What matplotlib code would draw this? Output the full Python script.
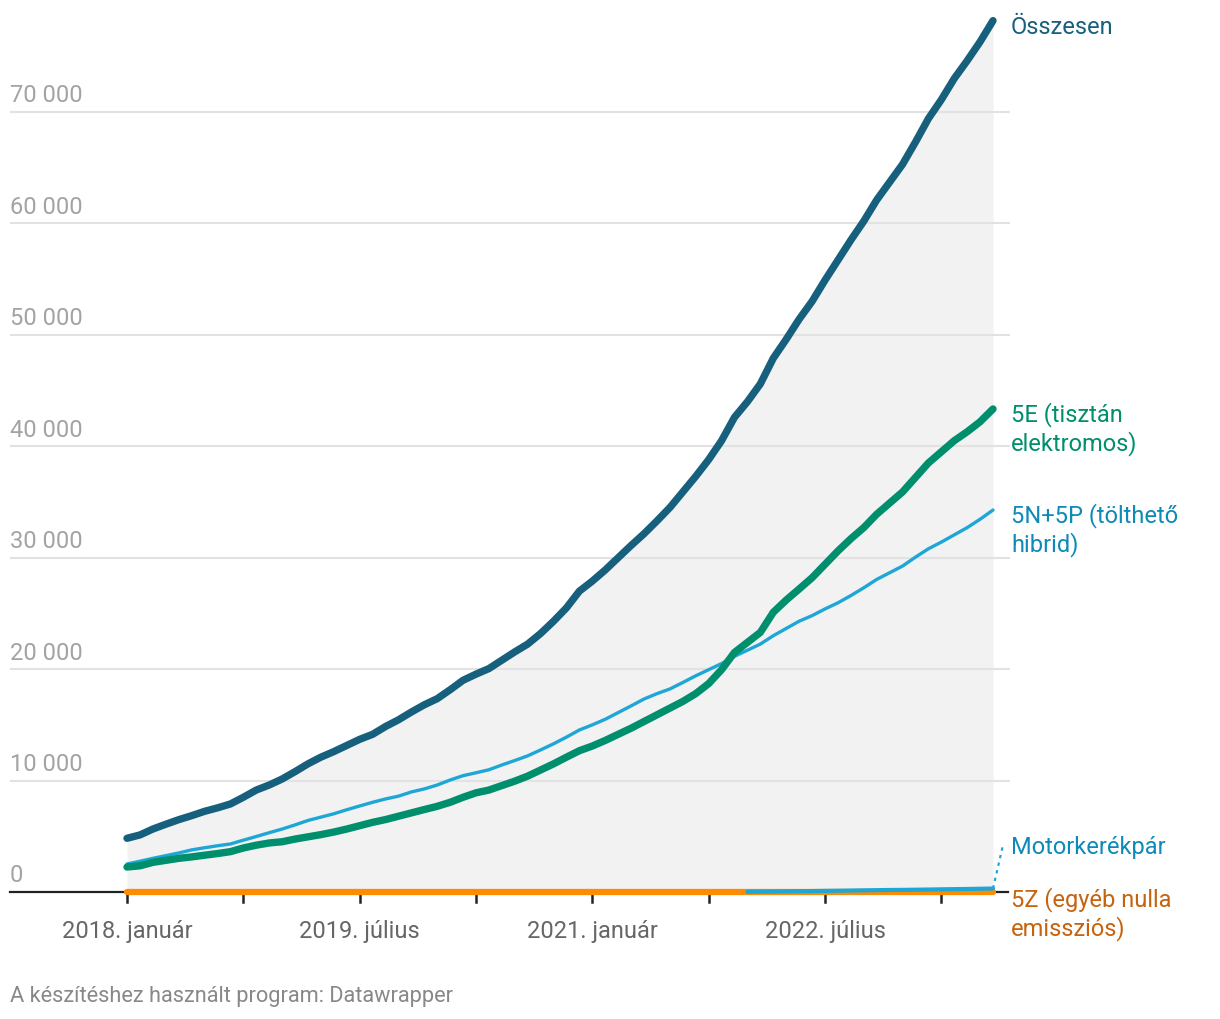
import matplotlib.pyplot as plt
import numpy as np

plt.rcParams['font.family'] = ['Roboto', 'DejaVu Sans']

# monthly values, 2018 January .. 2023 August (68 months)
months = np.arange(68)

osszesen = [4820, 5120, 5650, 6080, 6490, 6850, 7240, 7550, 7900, 8500,
            9150, 9600, 10140, 10800, 11500, 12100, 12600, 13150, 13700, 14150,
            14850, 15450, 16150, 16800, 17350, 18150, 19000, 19550, 20050, 20800,
            21550, 22250, 23200, 24300, 25500, 27000, 27900, 28900, 30000, 31100,
            32150, 33300, 34500, 35900, 37300, 38800, 40500, 42600, 44000, 45600,
            47900, 49600, 51400, 53000, 54900, 56700, 58500, 60200, 62100, 63700,
            65300, 67300, 69400, 71100, 73000, 74600, 76300, 78200]

e5 = [2240, 2350, 2660, 2840, 3020, 3150, 3300, 3450, 3620, 3950,
      4200, 4400, 4510, 4750, 4950, 5150, 5380, 5650, 5950, 6250,
      6500, 6800, 7100, 7400, 7690, 8050, 8500, 8900, 9150, 9550,
      9950, 10400, 10950, 11500, 12100, 12680, 13100, 13600, 14150, 14700,
      15300, 15900, 16500, 17100, 17800, 18700, 19950, 21500, 22400, 23300,
      25100, 26200, 27190, 28200, 29400, 30600, 31700, 32700, 33900, 34900,
      35900, 37200, 38500, 39500, 40500, 41300, 42200, 43350]

np5 = [2510, 2760, 3020, 3260, 3500, 3780, 3970, 4150, 4310, 4650,
       4980, 5320, 5650, 6020, 6420, 6720, 7020, 7380, 7720, 8050,
       8350, 8600, 8980, 9250, 9600, 10050, 10440, 10700, 10970, 11400,
       11800, 12220, 12750, 13300, 13900, 14540, 15000, 15500, 16100, 16700,
       17320, 17800, 18220, 18800, 19400, 19950, 20500, 21150, 21700, 22250,
       23000, 23650, 24300, 24800, 25400, 25950, 26600, 27300, 28050, 28650,
       29250, 30050, 30800, 31400, 32050, 32700, 33450, 34280]

# motorcycles only from month 48
motor = [np.nan] * 48 + [20, 35, 45, 60, 70, 85, 100, 115, 130, 150,
                         165, 180, 190, 205, 220, 240, 255, 270, 290, 310]

z5 = [10] * 68

tick_pos = [0, 9, 18, 27, 36, 45, 54, 63]
tick_labels = ['2018. január', '', '2019. július', '', '2021. január', '', '2022. július', '']
yticks = [10000, 20000, 30000, 40000, 50000, 60000, 70000]

c_total = '#17607d'
c_e = '#008f6d'
c_np = '#1ea6d6'
c_np_txt = '#0d8ab8'
c_z = '#ff8b00'
c_z_txt = '#c6630e'

fig = plt.figure(figsize=(12.2, 10.2), dpi=100)
W, H = 1220, 1020
x0, x1 = 10, 1010
ybase = 893
ax = fig.add_axes([x0 / W, (H - ybase) / H, (x1 - x0) / W, ybase / H])
ppm = (993 - 127) / 67.0
ax.set_xlim((x0 - 127) / ppm, (x1 - 127) / ppm)
ppv = (893 - 113) / 70000.0
ax.set_ylim(0, ybase / ppv)
ax.axis('off')

for v in yticks:
    ax.plot([ax.get_xlim()[0], ax.get_xlim()[1]], [v, v], color='#e2e2e2', lw=1.5, zorder=1)
    ax.text(ax.get_xlim()[0], v + 17 / ppv, f'{v // 1000} 000', color='#a3a3a3',
            fontsize=17, va='center', ha='left')
ax.text(ax.get_xlim()[0], 17 / ppv, '0', color='#a3a3a3', fontsize=17, va='center', ha='left')

ax.fill_between(months, 0, osszesen, color='#f2f2f2', lw=0, zorder=0)

ax.plot([ax.get_xlim()[0], (1008 - 127) / ppm], [0, 0], color='#222222', lw=1.6,
        clip_on=False, zorder=2)
for t, lab in zip(tick_pos, tick_labels):
    ax.plot([t, t], [0, -10 / ppv], color='#222222', lw=1.8, clip_on=False)
    if lab:
        ax.text(t, -39 / ppv, lab, ha='center', va='center', fontsize=17, color='#666666')

ax.plot(months, z5, color=c_z, lw=4.5, solid_capstyle='round', clip_on=False, zorder=3)
ax.plot(months, motor, color=c_np, lw=3, solid_capstyle='round', clip_on=False, zorder=3)
ax.plot(months, np5, color=c_np, lw=2.4, solid_capstyle='round', zorder=4)
ax.plot(months, e5, color=c_e, lw=5.3, solid_capstyle='round', zorder=5)
ax.plot(months, osszesen, color=c_total, lw=5.3, solid_capstyle='round', zorder=6)

# labels at the line ends
lx = (1011 - 127) / ppm
kw = dict(fontsize=17, ha='left', va='top', linespacing=1.2)
ax.text(lx, osszesen[-1] + 6 / ppv, 'Összesen', color=c_total, **kw)
ax.text(lx, e5[-1] + 8 / ppv, '5E (tisztán\nelektromos)', color=c_e, **kw)
ax.text(lx, np5[-1] + 8 / ppv, '5N+5P (tölthető\nhibrid)', color=c_np_txt, **kw)
ax.text(lx, 57 / ppv, 'Motorkerékpár', color=c_np_txt, **kw)
ax.text(lx, 6 / ppv, '5Z (egyéb nulla\nemissziós)', color=c_z_txt, **kw)
ax.plot([67, (1003 - 127) / ppm], [motor[-1], 47 / ppv], color=c_np, lw=1.6,
        ls=(0, (1.5, 2)), clip_on=False)

fig.text(10 / W, 1 - 997 / H, 'A készítéshez használt program: Datawrapper',
         fontsize=15.7, color='#888888', ha='left', va='center')

fig.savefig('out.png', dpi=100, facecolor='white')
